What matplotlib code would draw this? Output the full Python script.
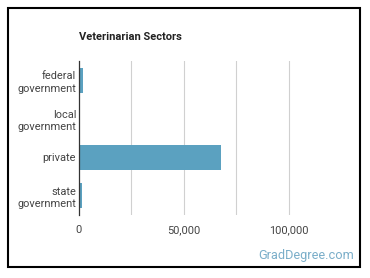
import matplotlib.pyplot as plt
from matplotlib.patches import Rectangle
from matplotlib.ticker import FuncFormatter

plt.rcParams['font.family'] = ['Roboto', 'DejaVu Sans']

# данные
sectors = ['federal\ngovernment', 'local\ngovernment', 'private', 'state\ngovernment']
workers = [1700, 500, 67600, 1600]
x_ticks = [0, 50000, 100000]

W, H = 370, 278
fig = plt.figure(figsize=(W / 100, H / 100), dpi=100)

# рамка вокруг всего графика
fig.patches.append(Rectangle((8 / W, 1 - 267 / H), 352 / W, 259 / H,
                             transform=fig.transFigure, fill=False,
                             edgecolor='black', linewidth=1.5))

ax = fig.add_axes([79 / W, 1 - 215 / H, (341 - 79) / W, (215 - 61) / H])
ax.barh(range(len(sectors)), workers, height=0.65, color='#5ba1c0', zorder=2)
ax.set_ylim(len(sectors) - 0.5, -0.5)
ax.set_xlim(0, 125000)
ax.set_yticks(range(len(sectors)))
ax.set_yticklabels(sectors, fontsize=7.9, color='#444444', linespacing=1.3)
ax.set_xticks(x_ticks)
ax.xaxis.set_major_formatter(FuncFormatter(lambda v, _: f'{int(v):,}'))
ax.tick_params(axis='x', labelsize=7.9, labelcolor='#444444', length=0, pad=7)
ax.tick_params(axis='y', length=0, pad=2)

# сетка через каждые 25 000
for gx in range(25000, 125000, 25000):
    ax.axvline(gx, color='#d0d0d0', linewidth=0.8, zorder=1)

for side in ['top', 'right', 'bottom']:
    ax.spines[side].set_visible(False)
ax.spines['left'].set_color('#333333')
ax.spines['left'].set_linewidth(0.9)
ax.spines['left'].set_zorder(3)

fig.text(79 / W, 1 - 37 / H, 'Veterinarian Sectors', fontsize=8,
         fontweight='bold', color='#222222', va='center', ha='left')
fig.text(354 / W, 1 - 256 / H, 'GradDegree.com', fontsize=9.2,
         color='#7aaec9', va='center', ha='right')

plt.savefig('out.png', dpi=100)
